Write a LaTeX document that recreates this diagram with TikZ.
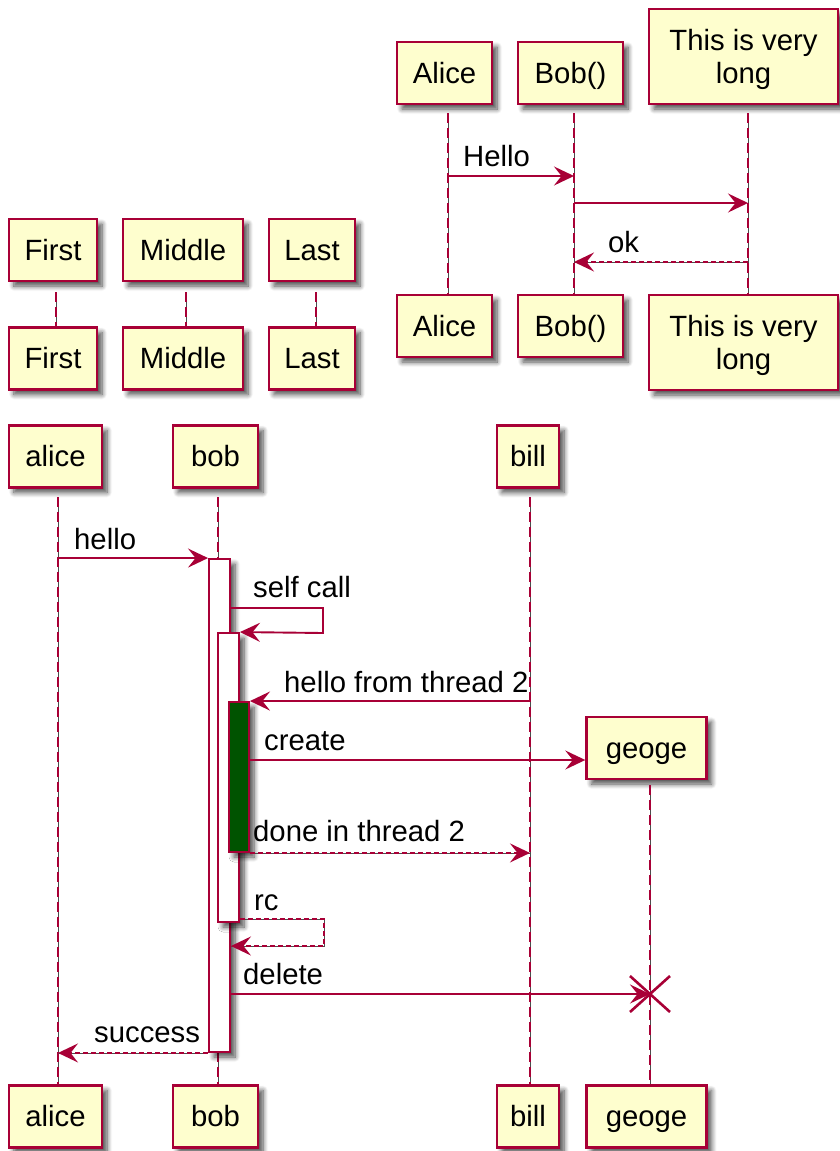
\documentclass[tikz,border=0pt]{standalone}
\usepackage{fontspec}
\setmainfont{Liberation Sans}
\usetikzlibrary{arrows.meta,shadows,shadows.blur,calc}
\definecolor{crim}{HTML}{A80036}
\definecolor{boxfill}{HTML}{FEFECE}
\definecolor{actgreen}{HTML}{005300}
\tikzset{
  txt/.style={font=\fontsize{29.3}{33}\selectfont},
  shad/.style={blur shadow={shadow xshift=5pt, shadow yshift=-5pt, shadow blur radius=5pt, shadow blur steps=8, shadow opacity=70}},
  partbase/.style={txt, draw=crim, fill=boxfill, line width=2.4pt, inner sep=0pt, shad},
  part/.style={partbase, text height=20pt, text depth=0pt, minimum height=62pt},
  longpart/.style={partbase, minimum height=95pt},
  lbl/.style={txt, inner sep=0pt, anchor=base west},
  life/.style={draw=crim, line width=1.7pt, dash pattern=on 10pt off 5pt,
    preaction={draw=black!70, line width=0.8pt, solid}},
  msg/.style={draw=crim, line width=1.9pt, -{Stealth[length=20pt,width=19pt,inset=7.5pt]}},
  ret/.style={msg, dash pattern=on 5pt off 3pt,
    preaction={draw=black!70, line width=0.8pt, solid, -}},
  actbox/.style={draw=crim, fill=white, line width=1.9pt, inner sep=0pt, shad},
}
\begin{document}
\begin{tikzpicture}[x=1pt,y=-1pt]
\useasboundingbox (0,0) rectangle (839,1151);

% ---------- top-right group ----------
\node[part, minimum width=95pt] (A1) at (444.5,73) {Alice};
\node[part, minimum width=105pt] (B1) at (570.5,73) {Bob()};
\node[longpart, minimum width=189pt,
  label={[txt, align=center, inner sep=0pt, yshift=-3pt]center:This is very\\long}] (L1) at (743.5,56.5) {};
\node[part, minimum width=95pt] (A1b) at (444.5,326) {Alice};
\node[part, minimum width=105pt] (B1b) at (570.5,326) {Bob()};
\node[longpart, minimum width=189pt,
  label={[txt, align=center, inner sep=0pt, yshift=-3pt]center:This is very\\long}] (L1b) at (743.5,342.5) {};
\coordinate (a1t) at (448,113);
\coordinate (b1t) at (574,113);
\coordinate (l1t) at (748,113);
\draw[life] (a1t) -- (a1t |- A1b.north);
\draw[life] (b1t) -- (b1t |- B1b.north);
\draw[life] (l1t) -- (l1t |- L1b.north);
\draw[msg] (a1t |- 0,176) -- (b1t |- 0,176);
\node[lbl] (hello1) at (463,166) {Hello};
\draw[msg] (b1t |- 0,203) -- (l1t |- 0,203);
\draw[ret] (l1t |- 0,262) -- (b1t |- 0,262);
\node[lbl] (ok1) at (608,252) {ok};

% ---------- First / Middle / Last ----------
\node[part, minimum width=88pt] (F) at (53,250) {First};
\node[part, minimum width=120pt] (M) at (183,250) {Middle};
\node[part, minimum width=86pt] (La) at (312,250) {Last};
\node[part, minimum width=88pt] (Fb) at (53,358.5) {First};
\node[part, minimum width=120pt] (Mb) at (183,358.5) {Middle};
\node[part, minimum width=86pt] (Lab) at (312,358.5) {Last};
\coordinate (ft) at (56,292);
\coordinate (mt) at (186,292);
\coordinate (lt) at (316,292);
\draw[life] (ft) -- (ft |- Fb.north);
\draw[life] (mt) -- (mt |- Mb.north);
\draw[life] (lt) -- (lt |- Lab.north);

% ---------- bottom group ----------
\node[part, minimum width=93pt] (al) at (55.5,456.5) {alice};
\node[part, minimum width=85pt] (bo) at (215.5,456.5) {bob};
\node[part, minimum width=62pt] (bi) at (528,456.5) {bill};
\node[part, minimum width=120pt] (ge) at (646.5,748) {geoge};
\node[part, minimum width=93pt] (alb) at (55.5,1116.5) {alice};
\node[part, minimum width=85pt] (bob2) at (215.5,1116.5) {bob};
\node[part, minimum width=62pt] (bib) at (528,1116.5) {bill};
\node[part, minimum width=120pt] (geb) at (646.5,1116.5) {geoge};
\coordinate (alt) at (58,497);
\coordinate (bot) at (218,497);
\coordinate (bit) at (530,497);
\coordinate (get) at (650,785);
\draw[life] (alt) -- (alt |- alb.north);
\draw[life] (bot) -- (bot |- bob2.north);
\draw[life] (bit) -- (bit |- bib.north);
\draw[life] (get) -- (get |- geb.north);

% activations
\node[actbox, minimum width=21pt, minimum height=493pt] (act1) at (219.5,805.5) {};
\node[actbox, minimum width=21pt, minimum height=289pt] (act2) at (228.5,777.5) {};
\node[actbox, fill=actgreen, minimum width=20pt, minimum height=150pt] (act3) at (239,777) {};

% messages
\draw[msg] (alt |- act1.north) -- (act1.north west);
\node[lbl] (m1) at (74,549) {hello};

\draw[msg] (act1.east |- 0,608) -- (323,608) -- (323,633) -- (act2.north east);
\node[lbl] (m2) at (253,597) {self call};

\draw[msg] (bit |- act3.north) -- (act3.north east);
\node[lbl] (m3) at (284,692) {hello from thread 2};

\draw[msg] (act3.east |- 0,760) -- (ge.west |- 0,760);
\node[lbl] (m4) at (264,750) {create};

\draw[ret] (act3.south east) -- (bit |- act3.south);
\node[lbl] (m5) at (253,841) {done in thread 2};

\draw[ret] (act2.east |- 0,919) -- (324,919) -- (324,946) -- (act1.east |- 0,946);
\node[lbl] (m6) at (254,910) {rc};

\coordinate (gx) at (650,994);
\draw[msg] (act1.east |- gx) -- (gx);
\draw[crim, line width=2.6pt] ($(gx)+(-20,-18)$) -- ($(gx)+(20,18)$)
  ($(gx)+(-20,18)$) -- ($(gx)+(20,-18)$);
\node[lbl] (m7) at (243,984) {delete};

\draw[ret] (act1.south west) -- (alt |- act1.south);
\node[lbl] (m8) at (94,1042) {success};
\end{tikzpicture}
\end{document}
